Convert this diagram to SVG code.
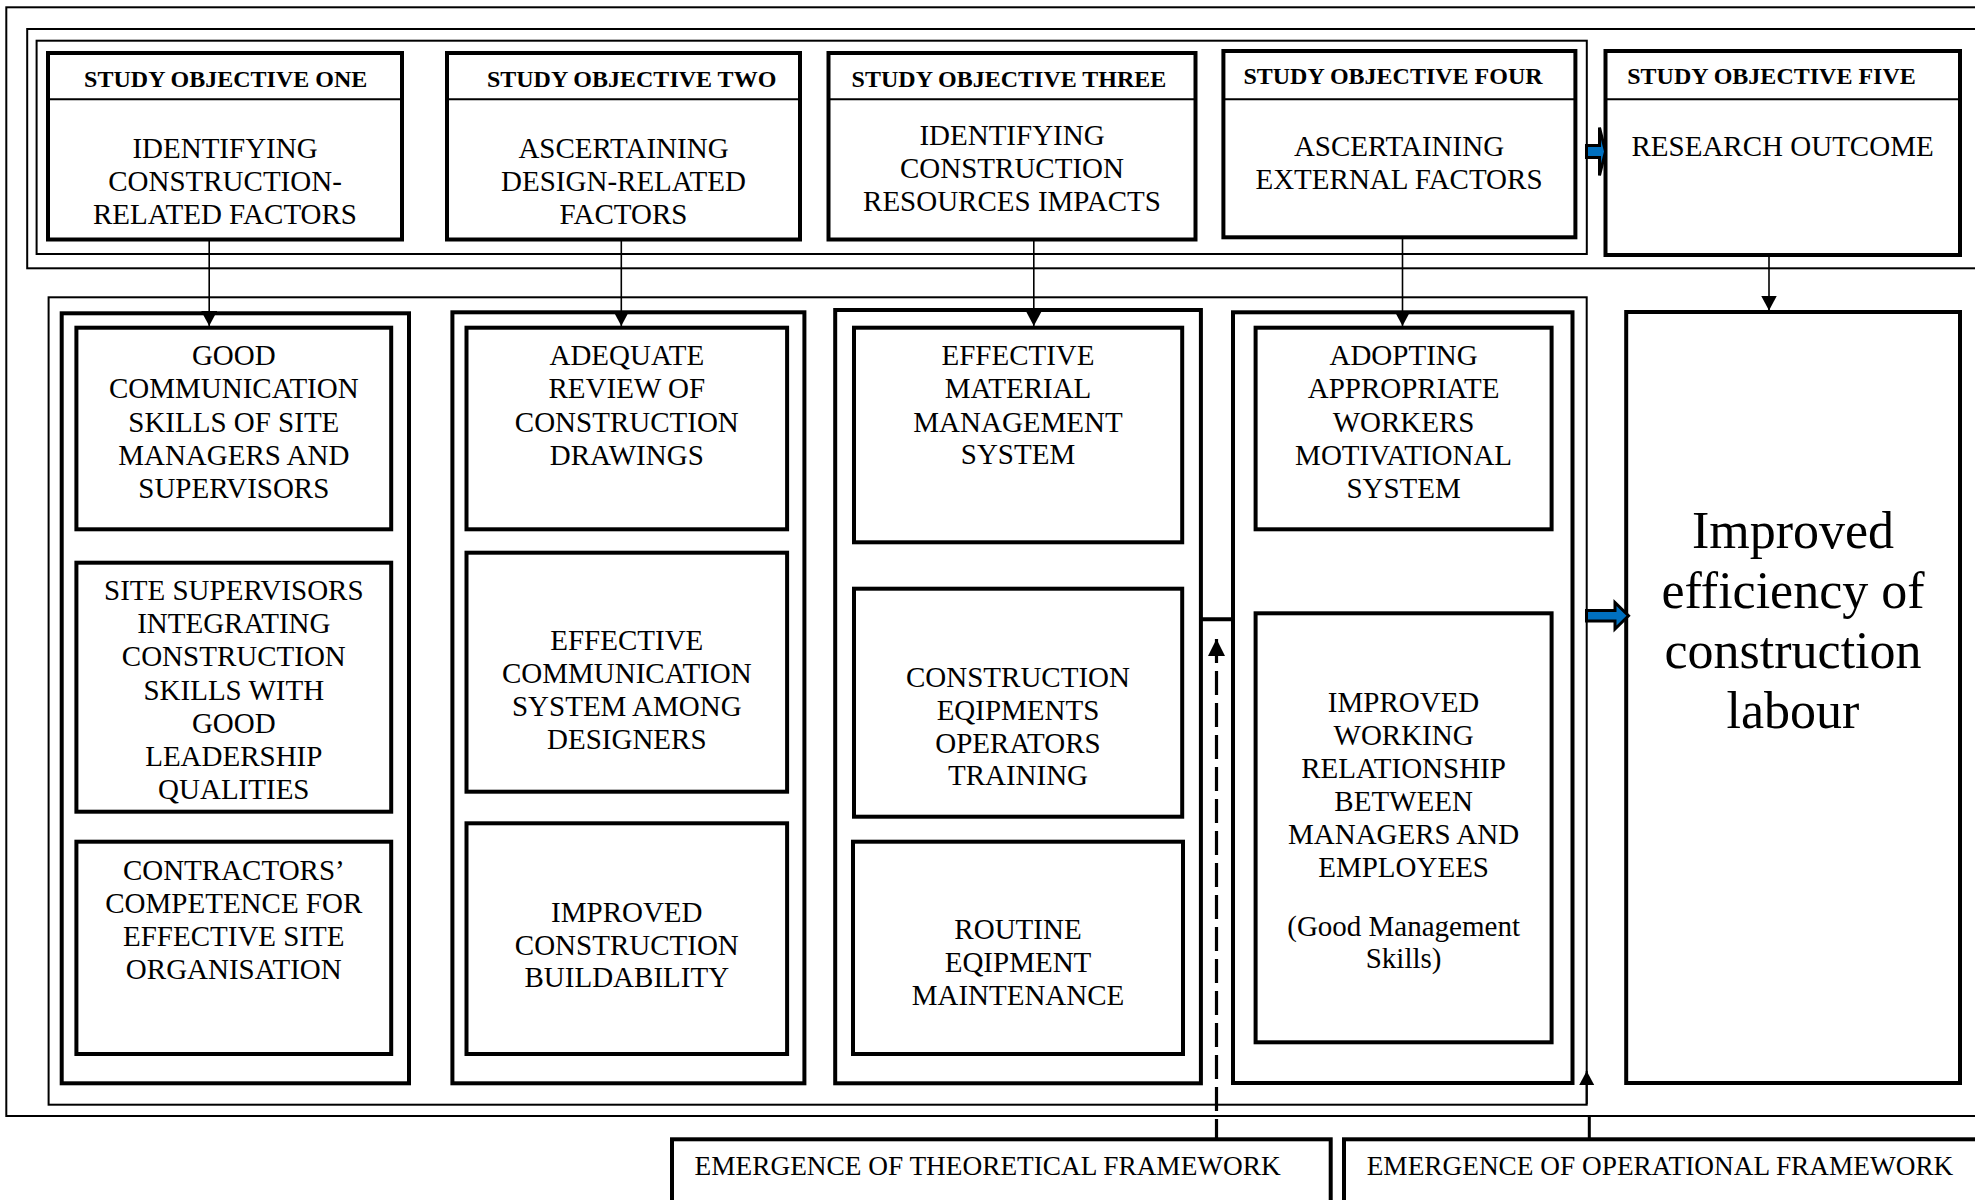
<svg xmlns="http://www.w3.org/2000/svg" width="1975" height="1200" viewBox="0 0 1975 1200">
  <style>
    .frame { fill: none; stroke: #000; stroke-width: 2; }
    .box { fill: #fff; stroke: #000; stroke-width: 4; }
    .col { fill: none; stroke: #000; stroke-width: 4; }
    .div { stroke: #000; stroke-width: 2; }
    .hdr { font-family: "Liberation Serif", "Times New Roman", serif; font-weight: bold; font-size: 24px; text-anchor: middle; fill: #000; }
    .t { font-family: "Liberation Serif", "Times New Roman", serif; font-size: 29px; text-anchor: middle; fill: #000; }
    .big { font-family: "Liberation Serif", "Times New Roman", serif; font-size: 52px; text-anchor: middle; fill: #000; }
    .foot { font-family: "Liberation Serif", "Times New Roman", serif; font-size: 27.3px; fill: #000; }
    .conn { fill: none; stroke: #000; stroke-width: 1.6; }
    .block { fill: #0070C0; stroke: #000; stroke-width: 3; stroke-linejoin: miter; }
  </style>
  <defs>
    <marker id="ah" markerUnits="userSpaceOnUse" markerWidth="16" markerHeight="16" refX="15" refY="8" orient="auto">
      <path d="M0,0 L15,8 L0,16 Z" fill="#000"/>
    </marker>
    <marker id="ahDash" markerUnits="userSpaceOnUse" markerWidth="17" markerHeight="18" refX="17" refY="9" orient="auto-start-reverse">
      <path d="M0,0.5 L17,9 L0,17.5 Z" fill="#000"/>
    </marker>
    <marker id="ahSmall" markerUnits="userSpaceOnUse" markerWidth="14" markerHeight="16" refX="14" refY="8" orient="auto">
      <path d="M0,0.5 L14,8 L0,15.5 Z" fill="#000"/>
    </marker>
  </defs>

  <!-- enclosing frames -->
  <g id="frames">
    <rect class="frame" x="6.3" y="7.3" width="2000" height="1108.7"/>
    <rect class="frame" x="27.2" y="29" width="2000" height="239.3" stroke-width="2.5"/>
    <rect class="frame" x="36.6" y="40.7" width="1550.2" height="213.3"/>
    <rect class="frame" x="48.6" y="297.3" width="1538.1" height="807.4"/>
  </g>

  <!-- study objectives -->
  <g id="objective-one">
    <rect class="box" x="48" y="53" width="354" height="186.5"/>
    <line class="div" x1="48" y1="99.3" x2="402" y2="99.3"/>
    <text class="hdr" x="225.7" y="86.5">STUDY OBJECTIVE ONE</text>
    <text class="t"><tspan x="225" y="158.3">IDENTIFYING</tspan><tspan x="225" y="191.3">CONSTRUCTION-</tspan><tspan x="225" y="224">RELATED FACTORS</tspan></text>
  </g>
  <g id="objective-two">
    <rect class="box" x="447" y="53" width="353" height="186.5"/>
    <line class="div" x1="447" y1="99.3" x2="800" y2="99.3"/>
    <text class="hdr" x="631.6" y="86.5">STUDY OBJECTIVE TWO</text>
    <text class="t"><tspan x="623.5" y="158.3">ASCERTAINING</tspan><tspan x="623.5" y="191.3">DESIGN-RELATED</tspan><tspan x="623.5" y="224">FACTORS</tspan></text>
  </g>
  <g id="objective-three">
    <rect class="box" x="828.5" y="53" width="367" height="186.5"/>
    <line class="div" x1="828.5" y1="99.3" x2="1195.5" y2="99.3"/>
    <text class="hdr" x="1009" y="86.5">STUDY OBJECTIVE THREE</text>
    <text class="t"><tspan x="1012" y="145">IDENTIFYING</tspan><tspan x="1012" y="178.3">CONSTRUCTION</tspan><tspan x="1012" y="210.7">RESOURCES IMPACTS</tspan></text>
  </g>
  <g id="objective-four">
    <rect class="box" x="1223.4" y="51" width="352" height="186.3"/>
    <line class="div" x1="1223.4" y1="99.3" x2="1575.4" y2="99.3"/>
    <text class="hdr" x="1393" y="83.8">STUDY OBJECTIVE FOUR</text>
    <text class="t"><tspan x="1399" y="156">ASCERTAINING</tspan><tspan x="1399" y="188.7">EXTERNAL FACTORS</tspan></text>
  </g>
  <g id="objective-five">
    <rect class="box" x="1605.5" y="51" width="354.5" height="204"/>
    <line class="div" x1="1605.5" y1="99.3" x2="1960" y2="99.3"/>
    <text class="hdr" x="1771.5" y="83.8">STUDY OBJECTIVE FIVE</text>
    <text class="t" x="1782.6" y="156">RESEARCH OUTCOME</text>
  </g>

  <!-- column one: construction-related factors -->
  <g id="column-one">
    <rect class="col" x="61.7" y="313.3" width="347.3" height="770"/>
    <g id="c1-communication">
      <rect class="box" x="76.4" y="327.7" width="314.8" height="201.6"/>
      <text class="t"><tspan x="233.8" y="365">GOOD</tspan><tspan x="233.8" y="398.3">COMMUNICATION</tspan><tspan x="233.8" y="431.5">SKILLS OF SITE</tspan><tspan x="233.8" y="464.6">MANAGERS AND</tspan><tspan x="233.8" y="497.7">SUPERVISORS</tspan></text>
    </g>
    <g id="c1-leadership">
      <rect class="box" x="76.4" y="562.7" width="314.8" height="249"/>
      <text class="t"><tspan x="233.8" y="600">SITE SUPERVISORS</tspan><tspan x="233.8" y="633.2">INTEGRATING</tspan><tspan x="233.8" y="666.4">CONSTRUCTION</tspan><tspan x="233.8" y="699.6">SKILLS WITH</tspan><tspan x="233.8" y="732.8">GOOD</tspan><tspan x="233.8" y="766">LEADERSHIP</tspan><tspan x="233.8" y="799">QUALITIES</tspan></text>
    </g>
    <g id="c1-competence">
      <rect class="box" x="76.4" y="841.7" width="314.8" height="212.3"/>
      <text class="t"><tspan x="233.8" y="880">CONTRACTORS’</tspan><tspan x="233.8" y="913">COMPETENCE FOR</tspan><tspan x="233.8" y="945.7">EFFECTIVE SITE</tspan><tspan x="233.8" y="978.5">ORGANISATION</tspan></text>
    </g>
  </g>

  <!-- column two: design-related factors -->
  <g id="column-two">
    <rect class="col" x="452.4" y="312.3" width="352" height="771"/>
    <g id="c2-review">
      <rect class="box" x="466.5" y="327.7" width="320.6" height="201.6"/>
      <text class="t"><tspan x="626.8" y="365">ADEQUATE</tspan><tspan x="626.8" y="398.3">REVIEW OF</tspan><tspan x="626.8" y="431.5">CONSTRUCTION</tspan><tspan x="626.8" y="464.5">DRAWINGS</tspan></text>
    </g>
    <g id="c2-designers">
      <rect class="box" x="466.5" y="552.7" width="320.6" height="239"/>
      <text class="t"><tspan x="626.8" y="650">EFFECTIVE</tspan><tspan x="626.8" y="683.3">COMMUNICATION</tspan><tspan x="626.8" y="716">SYSTEM AMONG</tspan><tspan x="626.8" y="749.3">DESIGNERS</tspan></text>
    </g>
    <g id="c2-buildability">
      <rect class="box" x="466.5" y="823.3" width="320.6" height="230.7"/>
      <text class="t"><tspan x="626.8" y="921.7">IMPROVED</tspan><tspan x="626.8" y="955">CONSTRUCTION</tspan><tspan x="626.8" y="987.3">BUILDABILITY</tspan></text>
    </g>
  </g>

  <!-- column three: construction resources -->
  <g id="column-three">
    <rect class="col" x="835.2" y="310" width="365.7" height="773.3"/>
    <g id="c3-material">
      <rect class="box" x="854" y="327.7" width="328.2" height="214.6"/>
      <text class="t"><tspan x="1018" y="365">EFFECTIVE</tspan><tspan x="1018" y="398.3">MATERIAL</tspan><tspan x="1018" y="431.5">MANAGEMENT</tspan><tspan x="1018" y="464.3">SYSTEM</tspan></text>
    </g>
    <g id="c3-training">
      <rect class="box" x="854" y="588.7" width="328.2" height="228"/>
      <text class="t"><tspan x="1018" y="686.7">CONSTRUCTION</tspan><tspan x="1018" y="719.5">EQIPMENTS</tspan><tspan x="1018" y="752.5">OPERATORS</tspan><tspan x="1018" y="785">TRAINING</tspan></text>
    </g>
    <g id="c3-maintenance">
      <rect class="box" x="853" y="841.7" width="330" height="212.3"/>
      <text class="t"><tspan x="1018" y="939.3">ROUTINE</tspan><tspan x="1018" y="972.3">EQIPMENT</tspan><tspan x="1018" y="1005">MAINTENANCE</tspan></text>
    </g>
  </g>

  <!-- column four: external factors -->
  <g id="column-four">
    <rect class="col" x="1233" y="312.3" width="339.5" height="770.7"/>
    <g id="c4-motivation">
      <rect class="box" x="1255.6" y="327.7" width="296" height="201.6"/>
      <text class="t"><tspan x="1403.6" y="365">ADOPTING</tspan><tspan x="1403.6" y="398.3">APPROPRIATE</tspan><tspan x="1403.6" y="431.5">WORKERS</tspan><tspan x="1403.6" y="464.5">MOTIVATIONAL</tspan><tspan x="1403.6" y="497.7">SYSTEM</tspan></text>
    </g>
    <g id="c4-relationship">
      <rect class="box" x="1255.6" y="613.3" width="296" height="429"/>
      <text class="t"><tspan x="1403.6" y="711.7">IMPROVED</tspan><tspan x="1403.6" y="744.5">WORKING</tspan><tspan x="1403.6" y="777.5">RELATIONSHIP</tspan><tspan x="1403.6" y="810.7">BETWEEN</tspan><tspan x="1403.6" y="844">MANAGERS AND</tspan><tspan x="1403.6" y="876.7">EMPLOYEES</tspan></text>
      <text class="t"><tspan x="1403.6" y="936">(Good Management</tspan><tspan x="1403.6" y="967.5">Skills)</tspan></text>
    </g>
  </g>

  <!-- outcome -->
  <g id="outcome">
    <rect class="col" x="1626.2" y="312" width="333.8" height="771"/>
    <text class="big"><tspan x="1793" y="548.3">Improved</tspan><tspan x="1793" y="608.3">efficiency of</tspan><tspan x="1793" y="668.3">construction</tspan><tspan x="1793" y="728.3">labour</tspan></text>
  </g>

  <!-- framework boxes -->
  <g id="theoretical-framework">
    <rect class="box" x="672" y="1139.3" width="658.7" height="120" stroke-width="4.5"/>
    <text class="foot" x="694.6" y="1175">EMERGENCE OF THEORETICAL FRAMEWORK</text>
  </g>
  <g id="operational-framework">
    <rect class="box" x="1344" y="1139.3" width="700" height="120" stroke-width="4.5"/>
    <text class="foot" x="1366.7" y="1175">EMERGENCE OF OPERATIONAL FRAMEWORK</text>
  </g>

  <!-- connectors -->
  <g id="connectors">
    <line class="conn" x1="209.2" y1="241" x2="209.2" y2="326" marker-end="url(#ah)"/>
    <line class="conn" x1="621.3" y1="241" x2="621.3" y2="326" marker-end="url(#ah)"/>
    <line class="conn" x1="1033.8" y1="241" x2="1033.8" y2="326" marker-end="url(#ah)"/>
    <line class="conn" x1="1402.5" y1="239" x2="1402.5" y2="326" marker-end="url(#ah)"/>
    <line class="conn" x1="1769" y1="257" x2="1769" y2="310.5" marker-end="url(#ah)"/>

    <!-- block arrows into the outcome -->
    <path class="block" d="M1586.5,145.5 H1599.5 V127.5 L1605.5,151.5 L1599.5,175.5 V157.5 H1586.5 Z"/>
    <path class="block" d="M1586.5,610.5 H1615 V602.5 L1628.5,615.8 L1615,629 V621 H1586.5 Z"/>

    <!-- link between resources and external factors -->
    <line x1="1200" y1="619.3" x2="1233" y2="619.3" stroke="#000" stroke-width="4"/>

    <!-- theoretical framework feed (dashed) -->
    <path d="M1216.5,639 V1139" fill="none" stroke="#000" stroke-width="3.2" stroke-dasharray="24 8" marker-start="url(#ahDash)"/>

    <!-- operational framework feed -->
    <line x1="1589.3" y1="1116" x2="1589.3" y2="1139.3" stroke="#000" stroke-width="3"/>
    <line x1="1586.7" y1="1104" x2="1586.7" y2="1071" stroke="#000" stroke-width="2" marker-end="url(#ahSmall)"/>
  </g>
</svg>
